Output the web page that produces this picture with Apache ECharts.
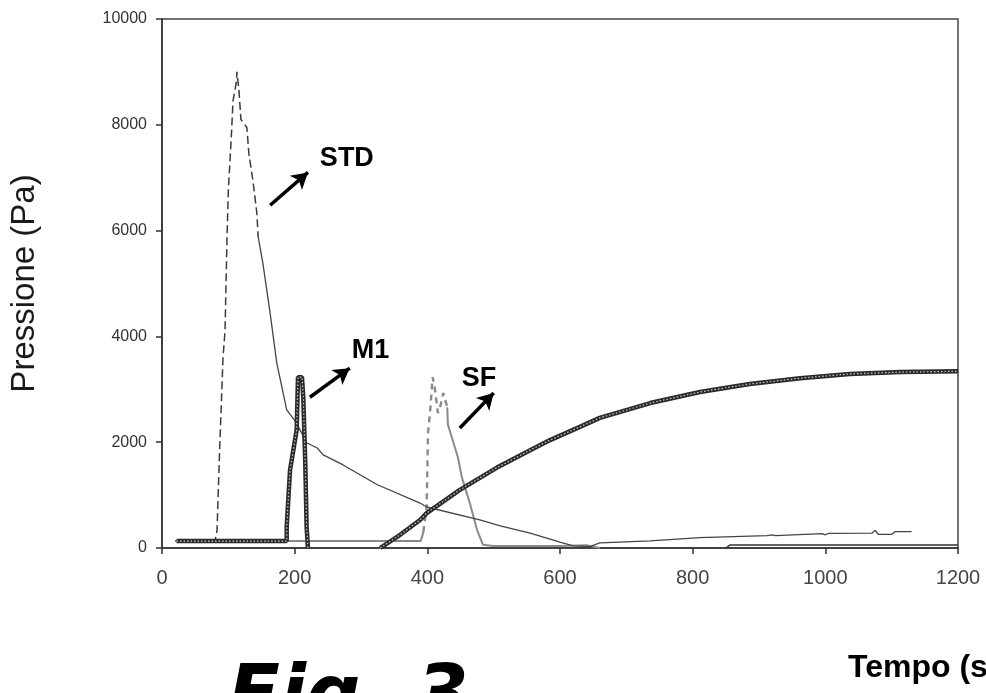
<!DOCTYPE html>
<html>
<head>
<meta charset="utf-8">
<script src="https://cdn.jsdelivr.net/npm/echarts@6/dist/echarts.min.js"></script>
<style>html,body{margin:0;padding:0;background:#fff}#c{width:986px;height:693px}</style>
</head>
<body>
<div id="c"></div>
<script>
// ---- data (time s, pressure Pa) ----
var xTicks = [0, 200, 400, 600, 800, 1000, 1200];
var yTicks = [0, 2000, 4000, 6000, 8000, 10000];

var stdRise = [[20,130],[80,130],[83,340],[87,1900],[92,3600],[95,4100],[98,5850],[100,6750],[105,7900],[107,8450],[112,8800],[113,9000],[116,8650],[119,8100],[128,7950],[131,7450],[137,6950],[143,6330],[145,5880]];
var stdDecay = [[145,5880],[152,5390],[163,4440],[173,3500],[188,2610],[203,2360],[218,1990],[234,1890],[243,1760],[273,1570],[324,1200],[389,850],[399,775],[479,530],[510,420],[555,280],[600,110],[620,40],[645,25],[660,95],[736,135],[811,195],[912,233],[920,250],[925,233],[995,270],[1000,250],[1005,277],[1070,280],[1075,330],[1080,260],[1100,258],[1105,308],[1130,308]];

var sfBase = [[20,130],[390,130],[394,300]];
var sfRise = [[394,300],[399,775],[401,2170],[404,2550],[408,3230],[411,3040],[416,2550],[420,2700],[424,2930],[430,2660]];
var sfDecay = [[430,2660],[431,2330],[446,1720],[452,1340],[464,850],[475,340],[484,60],[500,40],[600,40],[640,50],[660,0]];

var m1 = [[22,130],[188,130],[188,400],[193,1470],[198,1850],[203,2230],[205,3230],[211,3230],[213,2850],[216,1600],[218,400],[220,0]];
var m1Tail = [[850,0],[856,55],[1200,55]];

var rising = [[329,0],[359,250],[389,530],[399,660],[449,1100],[505,1520],[555,1850],[585,2040],[630,2290],[660,2460],[736,2740],[811,2950],[886,3100],[962,3210],[1037,3290],[1113,3325],[1200,3340]];

var labelNames = ['STD', 'M1', 'SF'];
var labelPos = [[238,7370],[286,3740],[452,3210]];
var arrowFrom = [[163,6480],[223,2850],[449,2270]];
var arrowTo = [[220,7100],[283,3400],[500,2930]];

// ---- chart ----
var chart = echarts.init(document.getElementById('c'));
var labelData = labelNames.map(function(n, i){ return [labelPos[i][0], labelPos[i][1], n]; });
var arrows = arrowFrom.map(function(f, i){ return [{coord: f}, {coord: arrowTo[i]}]; });

var thick = function(data){
  return [
    {type:'line', data:data, showSymbol:false, symbol:'none', silent:true, z:4,
     lineStyle:{color:'#2a2a2a', width:4.5}},
    {type:'line', data:data, showSymbol:false, symbol:'none', silent:true, z:5,
     lineStyle:{color:'#cfcfcf', width:1.2, type:[1.5,2]}}
  ];
};

var series = [
  {name:'SF', type:'line', data:sfBase, showSymbol:false, symbol:'none', silent:true, z:2,
   lineStyle:{color:'#8a8a8a', width:2}},
  {name:'SF', type:'line', data:sfRise, showSymbol:false, symbol:'none', silent:true, z:2,
   lineStyle:{color:'#8a8a8a', width:2.4, type:[6,5]}},
  {name:'SF', type:'line', data:sfDecay, showSymbol:false, symbol:'none', silent:true, z:2,
   lineStyle:{color:'#8a8a8a', width:2}},
  {name:'STD', type:'line', data:stdRise, showSymbol:false, symbol:'none', silent:true, z:3,
   lineStyle:{color:'#3a3a3a', width:1.5, type:[8,4]}},
  {name:'STD', type:'line', data:stdDecay, showSymbol:false, symbol:'none', silent:true, z:3,
   lineStyle:{color:'#444', width:1.3}},
  {name:'M1', type:'line', data:m1Tail, showSymbol:false, symbol:'none', silent:true, z:3,
   lineStyle:{color:'#333', width:1.5}}
].concat(thick(m1)).concat(thick(rising)).concat([
  {type:'scatter', data:labelData, symbolSize:0, silent:true, z:10,
   itemStyle:{opacity:1},
   label:{show:true, position:'right', distance:0, opacity:1, formatter:function(p){return p.value[2];},
          fontFamily:'Liberation Sans, Arial, sans-serif', fontWeight:'bold', fontSize:27, color:'#000',
          textBorderWidth:0},
   markLine:{silent:true, symbol:['none','arrow'], symbolSize:[14,16], animation:false,
             label:{show:false}, lineStyle:{color:'#000', width:3.5, type:'solid', opacity:1}, data:arrows}}
]);

chart.setOption({
  animation:false,
  backgroundColor:'#fff',
  grid:{left:162, right:28, top:19, bottom:145, show:true, borderColor:'#444', borderWidth:1.5, containLabel:false},
  xAxis:{type:'value', min:0, max:1200, interval:200,
    axisLine:{show:true, onZero:false, lineStyle:{color:'#333', width:1.5}},
    axisTick:{show:true, inside:false, length:6, lineStyle:{color:'#333', width:1.5}},
    splitLine:{show:false},
    axisLabel:{margin:20, color:'#444', fontFamily:'Liberation Sans Narrow, Arial Narrow, Liberation Sans, sans-serif', fontSize:20,
      formatter:function(v){ return xTicks.indexOf(v) >= 0 ? String(v) : ''; }}},
  yAxis:{type:'value', min:0, max:10000, interval:2000,
    name:'Pressione (Pa)', nameLocation:'middle', nameRotate:90, nameGap:121,
    nameTextStyle:{fontFamily:'Liberation Sans, Arial, sans-serif', fontSize:33, color:'#1a1a1a'},
    axisLine:{show:true, onZero:false, lineStyle:{color:'#333', width:1.5}},
    axisTick:{show:true, inside:false, length:6, lineStyle:{color:'#333', width:1.5}},
    splitLine:{show:false},
    axisLabel:{margin:15, color:'#333', fontFamily:'Liberation Sans, Arial, sans-serif', fontSize:16,
      formatter:function(v){ return yTicks.indexOf(v) >= 0 ? String(v) : ''; }}},
  graphic:[
    {type:'text', left:848, top:652, silent:true,
     style:{text:'Tempo (s)', font:'bold 32px "Liberation Sans", Arial, sans-serif', fill:'#000'}},
    {type:'text', left:228, top:661, silent:true,
     style:{text:'Fig. 3', font:'italic bold 76px "DejaVu Sans", sans-serif', fill:'#000'}}
  ],
  series:series
});
</script>
</body>
</html>
